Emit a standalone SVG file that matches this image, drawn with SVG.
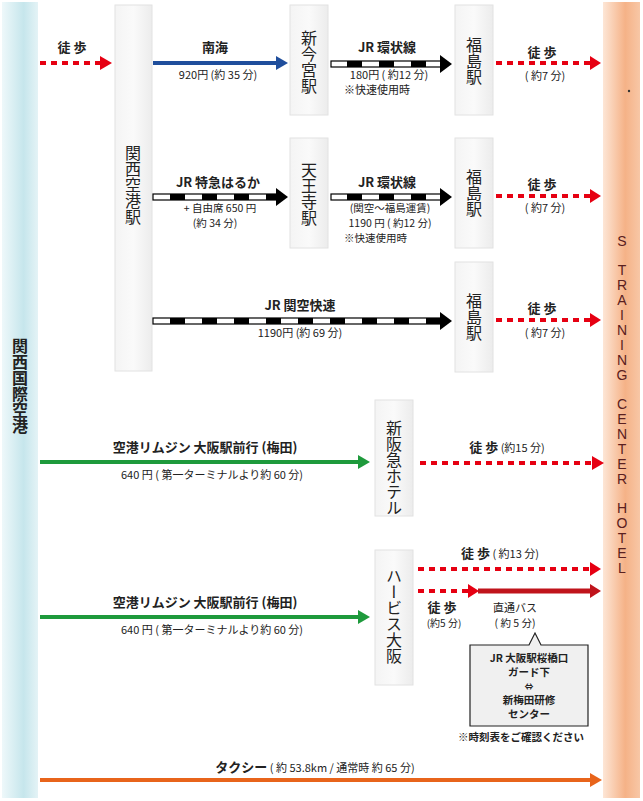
<svg xmlns="http://www.w3.org/2000/svg" width="643" height="801" viewBox="0 0 643 801">
<defs>
<linearGradient id="lb" x1="0" x2="1"><stop offset="0" stop-color="#eef8fa"/><stop offset="0.6" stop-color="#c6e6ec"/><stop offset="1" stop-color="#e4f3f6"/></linearGradient>
<linearGradient id="rb" x1="0" x2="1"><stop offset="0" stop-color="#fde6d6"/><stop offset="0.6" stop-color="#f5b287"/><stop offset="1" stop-color="#f8c7a6"/></linearGradient>
<linearGradient id="bx" x1="0" x2="1"><stop offset="0" stop-color="#f4f4f4"/><stop offset="0.5" stop-color="#fafafa"/><stop offset="1" stop-color="#ececec"/></linearGradient>
</defs>
<style>
text{font-family:"Noto Sans CJK JP","Noto Sans",sans-serif;fill:#222}
.b{font-weight:bold;font-size:13px}
.s{font-size:11px}
.t{font-size:10.5px}
.v{font-size:16px;writing-mode:vertical-rl;text-anchor:start}
.c{font-weight:bold;font-size:10.5px}
.box{fill:url(#bx);stroke:#e2e2e2}
.walk{stroke:#e60012;stroke-width:4;stroke-dasharray:6,5;fill:none}
.rw{fill:#e60012}
</style>
<rect x="2" y="2" width="36" height="796" fill="url(#lb)"/>
<rect x="603" y="2" width="37" height="796" fill="url(#rb)"/>
<g id="kix"><text class="v" x="20" y="338" font-weight="bold">関西国際空港</text></g>
<g id="hotel"><circle cx="629" cy="91" r="1.2" fill="#333"/>
<text font-size="14" text-anchor="middle" style="fill:#5a2020;font-family:'Liberation Sans',sans-serif">
<tspan x="622" y="246">S</tspan><tspan x="622" y="275">T</tspan><tspan x="622" y="290">R</tspan><tspan x="622" y="305">A</tspan><tspan x="622" y="320">I</tspan><tspan x="622" y="335">N</tspan><tspan x="622" y="350">I</tspan><tspan x="622" y="365">N</tspan><tspan x="622" y="380">G</tspan><tspan x="622" y="409">C</tspan><tspan x="622" y="424">E</tspan><tspan x="622" y="439">N</tspan><tspan x="622" y="454">T</tspan><tspan x="622" y="469">E</tspan><tspan x="622" y="484">R</tspan><tspan x="622" y="513">H</tspan><tspan x="622" y="528">O</tspan><tspan x="622" y="543">T</tspan><tspan x="622" y="558">E</tspan><tspan x="622" y="573">L</tspan></text></g>
<g id="kansai-st"><rect class="box" x="115" y="5" width="37" height="366"/><text class="v" x="133" y="145">関西空港駅</text></g>
<g id="shinimamiya"><rect class="box" x="290" y="5" width="38" height="110"/><text class="v" x="309" y="30">新今宮駅</text></g>
<g id="tennoji"><rect class="box" x="290" y="138" width="38" height="110"/><text class="v" x="309" y="162">天王寺駅</text></g>
<g id="fukushima1"><rect class="box" x="455" y="5" width="38" height="110"/><text class="v" x="474" y="37">福島駅</text></g>
<g id="fukushima2"><rect class="box" x="455" y="138" width="38" height="110"/><text class="v" x="474" y="169">福島駅</text></g>
<g id="fukushima3"><rect class="box" x="455" y="262" width="38" height="110"/><text class="v" x="474" y="293">福島駅</text></g>
<g id="hankyu"><rect class="box" x="375" y="400" width="38" height="116"/><text class="v" x="394" y="420">新阪急ホテル</text></g>
<g id="herbis"><rect class="box" x="375" y="550" width="38" height="135"/><text class="v" x="394" y="568">ハービス大阪</text></g>
<g id="connectors">
<line class="walk" x1="40" y1="63" x2="102" y2="63"/><polygon class="rw" points="100,56 112,63 100,70"/>
<line x1="153" y1="63" x2="278" y2="63" stroke="#1f4e9c" stroke-width="4"/><polygon fill="#1f4e9c" points="276,56 288,63 276,70"/>
<rect x="331" y="61" width="110" height="6" fill="#fff" stroke="#000" stroke-width="1.2"/><line x1="347" y1="64" x2="441" y2="64" stroke="#000" stroke-width="6" stroke-dasharray="15,17"/><polygon points="440,55 452,64 440,73" fill="#000"/>
<line class="walk" x1="496" y1="63" x2="590" y2="63"/><polygon class="rw" points="590,56 601,63 590,70"/>
<rect x="153" y="194" width="125" height="6" fill="#fff" stroke="#000" stroke-width="1.2"/><line x1="170" y1="197" x2="278" y2="197" stroke="#000" stroke-width="6" stroke-dasharray="15,17"/><polygon points="276,188 288,197 276,206" fill="#000"/>
<rect x="331" y="194" width="110" height="6" fill="#fff" stroke="#000" stroke-width="1.2"/><line x1="347" y1="197" x2="441" y2="197" stroke="#000" stroke-width="6" stroke-dasharray="15,17"/><polygon points="440,188 452,197 440,206" fill="#000"/>
<line class="walk" x1="496" y1="196" x2="590" y2="196"/><polygon class="rw" points="590,189 601,196 590,203"/>
<rect x="153" y="318" width="288" height="6" fill="#fff" stroke="#000" stroke-width="1.2"/><line x1="170" y1="321" x2="441" y2="321" stroke="#000" stroke-width="6" stroke-dasharray="15,17"/><polygon points="440,312 452,321 440,330" fill="#000"/>
<line class="walk" x1="496" y1="320" x2="590" y2="320"/><polygon class="rw" points="590,313 601,320 590,327"/>
<line x1="40" y1="462" x2="360" y2="462" stroke="#1e9a3c" stroke-width="4"/><polygon fill="#1e9a3c" points="358,455 370,462 358,469"/>
<line class="walk" x1="420" y1="463" x2="592" y2="463"/><polygon class="rw" points="592,456 604,463 592,470"/>
<line class="walk" x1="418" y1="569" x2="590" y2="569"/><polygon class="rw" points="590,562 601,569 590,576"/>
<line class="walk" x1="418" y1="591" x2="470" y2="591"/><polygon class="rw" points="468,584 479,591 468,598"/>
<line x1="478" y1="591" x2="590" y2="591" stroke="#c0141c" stroke-width="5"/><polygon fill="#c0141c" points="590,584 601,591 590,598"/>
<line x1="40" y1="617" x2="360" y2="617" stroke="#1e9a3c" stroke-width="4"/><polygon fill="#1e9a3c" points="358,610 370,617 358,624"/>
<line x1="40" y1="780" x2="590" y2="780" stroke="#e8641b" stroke-width="4"/><polygon fill="#e8641b" points="590,773 602,780 590,787"/>
</g>
<g id="labels">
<text class="b" x="72" y="52" text-anchor="middle">徒 歩</text>
<text class="b" x="215" y="52" text-anchor="middle">南海</text>
<text class="s" x="218" y="79" text-anchor="middle">920円 (約 35 分)</text>
<text class="b" x="387" y="52" text-anchor="middle">JR 環状線</text>
<text class="s" x="389" y="79" text-anchor="middle">180円 ( 約12 分)</text>
<text class="s" x="344" y="94">※快速使用時</text>
<text class="b" x="542" y="57" text-anchor="middle">徒 歩</text>
<text class="s" x="545" y="80" text-anchor="middle">( 約7 分)</text>
<text class="b" x="218" y="187" text-anchor="middle">JR 特急はるか</text>
<text class="t" x="220" y="212" text-anchor="middle">+ 自由席 650 円</text>
<text class="t" x="215" y="227" text-anchor="middle">(約 34 分)</text>
<text class="b" x="387" y="187" text-anchor="middle">JR 環状線</text>
<text class="t" x="390" y="212" text-anchor="middle">(関空～福島運賃)</text>
<text class="t" x="390" y="227" text-anchor="middle">1190 円 ( 約12 分)</text>
<text class="t" x="344" y="242">※快速使用時</text>
<text class="b" x="542" y="189" text-anchor="middle">徒 歩</text>
<text class="s" x="545" y="212" text-anchor="middle">( 約7 分)</text>
<text class="b" x="300" y="310" text-anchor="middle">JR 関空快速</text>
<text class="s" x="300" y="337" text-anchor="middle">1190円 (約 69 分)</text>
<text class="b" x="542" y="313" text-anchor="middle">徒 歩</text>
<text class="s" x="545" y="337" text-anchor="middle">( 約7 分)</text>
<text class="b" x="205" y="452" text-anchor="middle">空港リムジン 大阪駅前行 (梅田)</text>
<text class="s" x="212" y="479" text-anchor="middle">640 円 ( 第一ターミナルより約 60 分)</text>
<text x="507" y="452" text-anchor="middle"><tspan class="b">徒 歩</tspan><tspan class="s"> (約15 分)</tspan></text>
<text x="500" y="558" text-anchor="middle"><tspan class="b">徒 歩</tspan><tspan class="s"> ( 約13 分)</tspan></text>
<text class="b" x="442" y="612" text-anchor="middle">徒 歩</text>
<text x="444" y="627" text-anchor="middle" font-size="10">(約5 分)</text>
<text x="515" y="612" text-anchor="middle" font-size="11">直通バス</text>
<text x="515" y="627" text-anchor="middle" font-size="10.5">( 約 5 分)</text>
<text class="b" x="205" y="607" text-anchor="middle">空港リムジン 大阪駅前行 (梅田)</text>
<text class="s" x="212" y="634" text-anchor="middle">640 円 ( 第一ターミナルより約 60 分)</text>
<text x="315" y="772" text-anchor="middle"><tspan class="b">タクシー</tspan><tspan class="s"> ( 約 53.8km / 通常時 約 65 分)</tspan></text>
</g>
<g id="callout">
<path d="M470,645 H529 L535,633 L541,645 H588 V726 H470 Z" fill="#f0f0f0" stroke="#222" stroke-width="1.2"/>
<text class="c" x="529" y="662" text-anchor="middle">JR 大阪駅桜橋口</text>
<text class="c" x="529" y="676" text-anchor="middle">ガード下</text>
<text class="c" x="529" y="690" text-anchor="middle" style="font-size:9px">⇔</text>
<text class="c" x="529" y="704" text-anchor="middle">新梅田研修</text>
<text class="c" x="529" y="718" text-anchor="middle">センター</text>
<text class="c" x="521" y="741" text-anchor="middle">※時刻表をご確認ください</text>
</g>
</svg>
